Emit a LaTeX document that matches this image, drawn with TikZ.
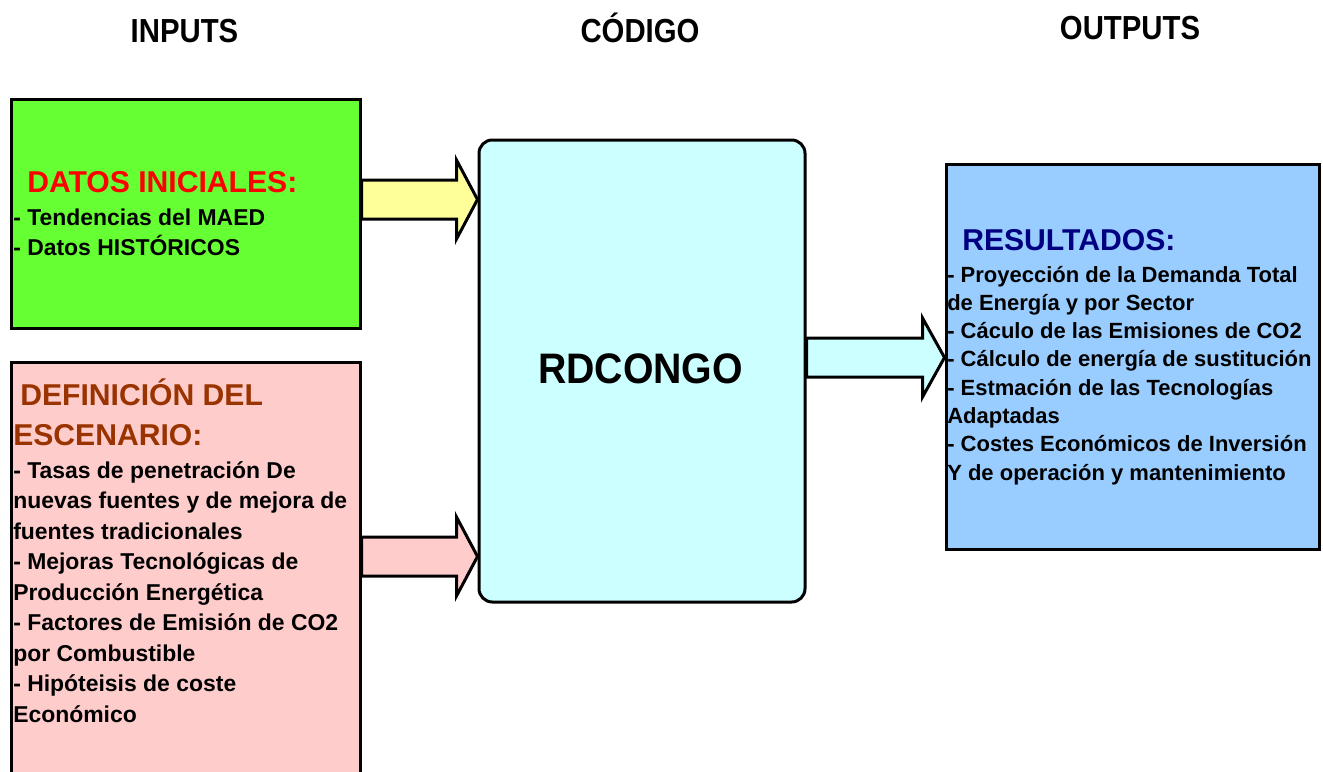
\documentclass[tikz,border=0pt]{standalone}
\usepackage{fontspec}
\setmainfont{Liberation Sans}
\newfontfamily\titlefont{Liberation Sans}[FakeStretch=0.88]
\newfontfamily\bigfont{Liberation Sans}[FakeStretch=0.92]
\usetikzlibrary{calc}
\definecolor{boxgreen}{HTML}{66FF33}
\definecolor{boxpink}{HTML}{FFCCCC}
\definecolor{boxcyan}{HTML}{CCFFFF}
\definecolor{boxblue}{HTML}{99CCFF}
\definecolor{arrowyellow}{HTML}{FFFF99}
\definecolor{headred}{HTML}{FF0000}
\definecolor{headbrown}{HTML}{993300}
\definecolor{headnavy}{HTML}{000080}
\begin{document}
\begin{tikzpicture}[x=0.75pt,y=-0.75pt,
  box/.style={draw=black,line width=2.25pt,anchor=north west,inner sep=0pt},
  blockarrow/.style={draw=black,line width=2.25pt,line join=miter},
  coltitle/.style={anchor=base,inner sep=0pt,font=\titlefont\fontsize{25}{30}\selectfont\bfseries},
  boxhead/.style={anchor=base west,inner sep=0pt,font=\fontsize{22.6}{26}\selectfont\bfseries},
  bodytxt/.style={anchor=base west,inner sep=0pt,font=\fontsize{17.2}{20}\selectfont\bfseries},
  outtxt/.style={anchor=base west,inner sep=0pt,font=\fontsize{16.5}{20}\selectfont\bfseries}]
\useasboundingbox (0,0) rectangle (1323,771);
\clip (0,0) rectangle (1323,771);

% column titles
\node[coltitle] (tin) at (184.5,42) {INPUTS};
\node[coltitle] (tcod) at (640,42) {CÓDIGO};
\node[coltitle] (tout) at (1130,39) {OUTPUTS};

% boxes
\node[box,fill=boxgreen,minimum width=261.75pt,minimum height=171.75pt] (green) at (9.5,98) {};
\node[box,fill=boxpink,minimum width=261.75pt,minimum height=329pt] (pink) at (9.5,361) {};
\node[box,fill=boxcyan,rounded corners=10pt,minimum width=244.5pt,minimum height=346.5pt] (code) at (477.5,138.5) {};
\node[box,fill=boxblue,minimum width=279.75pt,minimum height=288.75pt] (blue) at (944.5,162.5) {};

% block arrows
\coordinate (t1) at (code.west |- 0,199.5);
\draw[blockarrow,fill=arrowyellow]
  ($(green.east |- t1)+(0,-19.5)$) -- ($(t1)+(-21,-19.5)$) -- ($(t1)+(-21,-39.5)$) -- (t1)
  -- ($(t1)+(-21,39.5)$) -- ($(t1)+(-21,19.5)$) -- ($(green.east |- t1)+(0,19.5)$) -- cycle;
\coordinate (t2) at (code.west |- 0,556.5);
\draw[blockarrow,fill=boxpink]
  ($(pink.east |- t2)+(0,-19.5)$) -- ($(t2)+(-21,-19.5)$) -- ($(t2)+(-21,-39.5)$) -- (t2)
  -- ($(t2)+(-21,39.5)$) -- ($(t2)+(-21,19.5)$) -- ($(pink.east |- t2)+(0,19.5)$) -- cycle;
\coordinate (t3) at (blue.west |- 0,357.5);
\draw[blockarrow,fill=boxcyan]
  ($(code.east |- t3)+(0,-19.5)$) -- ($(t3)+(-22,-19.5)$) -- ($(t3)+(-22,-39.5)$) -- (t3)
  -- ($(t3)+(-22,39.5)$) -- ($(t3)+(-22,19.5)$) -- ($(code.east |- t3)+(0,19.5)$) -- cycle;

% code label
\node[anchor=base,inner sep=0pt,font=\bigfont\fontsize{32}{36}\selectfont\bfseries] (rdc) at (640.5,383) {RDCONGO};

% green box text
\node[boxhead,text=headred] (ghead) at (27,192) {DATOS INICIALES:};
\foreach \t [count=\i] in {- Tendencias del MAED,- Datos HISTÓRICOS}
  \node[bodytxt] (gl\i) at (13,{225+(\i-1)*30}) {\t};

% pink box text
\node[boxhead,text=headbrown] (phead1) at (20,405) {DEFINICIÓN DEL};
\node[boxhead,text=headbrown] (phead2) at (13,445) {ESCENARIO:};
\foreach \t [count=\i] in {- Tasas de penetración De,nuevas fuentes y de mejora de,fuentes tradicionales,- Mejoras Tecnológicas de,Producción Energética,- Factores de Emisión de CO2,por Combustible,- Hipóteisis de coste,Económico}
  \node[bodytxt] (pl\i) at (13,{478+(\i-1)*30.5}) {\t};

% blue box text
\node[boxhead,text=headnavy] (bhead) at (962,250) {RESULTADOS:};
\foreach \t [count=\i] in {- Proyección de la Demanda Total,de Energía y por Sector,- Cáculo de las Emisiones de CO2,- Cálculo de energía de sustitución,- Estmación de las Tecnologías,Adaptadas,- Costes Económicos de Inversión,Y de operación y mantenimiento}
  \node[outtxt] (bl\i) at (947,{282+(\i-1)*28.3}) {\t};
\end{tikzpicture}
\end{document}
